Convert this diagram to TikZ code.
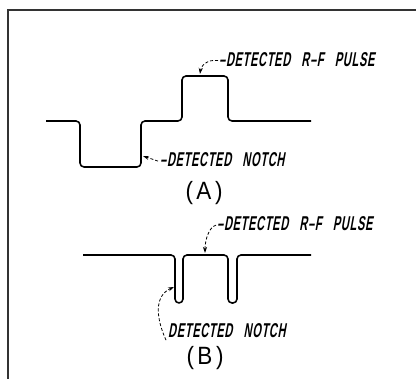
\documentclass[tikz,border=0pt]{standalone}
\usepackage{fontspec}
\setmainfont{Liberation Sans}
\newfontfamily\lblfont[FakeSlant=0.18,FakeStretch=0.55,LetterSpace=3.5,WordSpace=3]{Liberation Sans Bold}
\newfontfamily\capfont[FakeStretch=0.9]{Liberation Sans}
\usetikzlibrary{arrows.meta}
\begin{document}
\begin{tikzpicture}[x=1pt,y=-1pt,
  wave/.style={line width=1.6pt,rounded corners=4pt,line join=round},
  frame/.style={line width=1.8pt,draw=black!80},
  lbl/.style={font=\lblfont\fontsize{20}{20}\selectfont,inner sep=0pt,anchor=base west},
  capt/.style={font=\capfont\fontsize{25}{25}\selectfont,inner sep=0pt,anchor=base},
  lead/.style={dashed,dash pattern=on 3pt off 2pt,line width=0.8pt,-{Stealth[length=6pt,width=4pt]}}]
\useasboundingbox (0,0) rectangle (416,379);
\draw[frame] (8,379) -- (8,10) -- (416,10);
% waveform A
\draw[wave] (46,121) -- (80,121) -- (80,167) -- (141,167) -- (141,121) -- (182,121)
  -- (182,76) -- (228,76) -- (228,121) -- (311,121);
% waveform B
\draw[wave] (83,255) -- (175,255) -- (175,303) -- (183,303) -- (183,255) -- (228,255)
  -- (228,303) -- (237,303) -- (237,255) -- (311,255);
% labels
\node[lbl] (pa) at (219,66.5) {–DETECTED R–F PULSE};
\node[lbl] (na) at (160,167) {–DETECTED NOTCH};
\node[capt] (ca) at (204,200) {(\kern3.5pt A\kern3.5pt)};
\node[lbl] (pb) at (217,231) {–DETECTED R–F PULSE};
\node[lbl] (nb) at (168,338) {DETECTED NOTCH};
\node[capt] (cb) at (205,365) {(\kern3.5pt B\kern3.5pt)};
\coordinate (tpa) at (200,74);
\coordinate (tna) at (143,156);
\coordinate (tpb) at (205,253);
\coordinate (tnb) at (174,287);
\draw[lead] ([xshift=-1pt,yshift=-1pt]pa.west) .. controls (207,59) and (201,66) .. (tpa);
\draw[lead] ([xshift=-2pt,yshift=-1pt]na.west) -- (tna);
\draw[lead] ([xshift=-1pt,yshift=-1pt]pb.west) .. controls (209,227) and (205,240) .. (tpb);
\draw[lead] ([xshift=-2pt,yshift=-9pt]nb.west) .. controls (156,318) and (154,296) .. (tnb);
\end{tikzpicture}
\end{document}
